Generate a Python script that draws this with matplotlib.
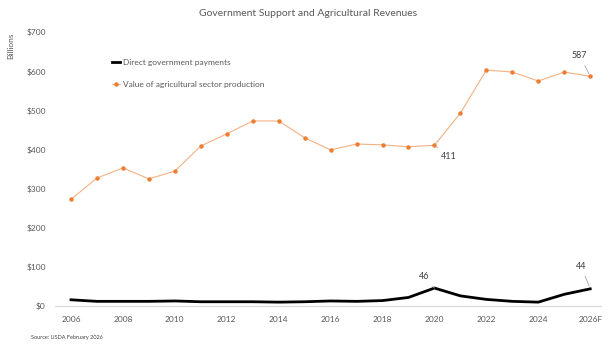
import matplotlib.pyplot as plt
import numpy as np

plt.rcParams['font.family'] = ['Lato', 'DejaVu Sans']

# data (USDA, $ billions)
years = ["2006", "2007", "2008", "2009", "2010", "2011", "2012", "2013", "2014", "2015",
         "2016", "2017", "2018", "2019", "2020", "2021", "2022", "2023", "2024", "2025", "2026F"]
gov_payments = [16, 12, 12, 12, 13, 11, 11, 11, 10, 11,
                13, 12, 14, 22, 46, 26, 17, 12, 10, 30, 44]
ag_production = [273, 327, 353, 325, 345, 409, 440, 473, 473, 430,
                 399, 414, 412, 407, 411, 493, 603, 598, 575, 598, 587]
yticks = [0, 100, 200, 300, 400, 500, 600, 700]

grey = "#595959"
orange = "#ED7D31"

fig = plt.figure(figsize=(6.16, 3.53), dpi=100)
ax = fig.add_axes([0.09, 0.133, 0.885, 0.776])

x = np.arange(len(years))
ax.plot(x, gov_payments, color="black", lw=2.0, label="Direct government payments", zorder=3)
ax.plot(x, ag_production, color="#F4B183", lw=0.8, marker="o", ms=2.2,
        mfc=orange, mec=orange, label="Value of agricultural sector production", zorder=3)

ax.set_xlim(-0.6, len(years) - 0.6)
ax.set_ylim(0, 700)
ax.set_yticks(yticks)
ax.set_yticklabels(["$%d" % v for v in yticks])
ax.set_xticks(x[::2])
ax.set_xticklabels(years[::2])
ax.tick_params(length=0, labelsize=6, colors=grey, pad=7)

for s in ["top", "right", "left"]:
    ax.spines[s].set_visible(False)
ax.spines["bottom"].set_color("#D9D9D9")
ax.spines["bottom"].set_linewidth(0.8)

# data labels with leader lines
lbl = dict(fontsize=6.5, color="#404040", arrowprops=dict(arrowstyle="-", color="#A6A6A6", lw=0.6))
ax.annotate("587", xy=(20, ag_production[20]), xytext=(19.3, 633), **lbl)
ax.annotate("411", xy=(14, ag_production[14]), xytext=(14.25, 375), **lbl)
ax.annotate("46", xy=(14, gov_payments[14]), xytext=(13.4, 68), **lbl)
ax.annotate("44", xy=(20, gov_payments[20]), xytext=(19.45, 95), **lbl)

ax.legend(loc="upper left", bbox_to_anchor=(0.09, 0.93), frameon=False, fontsize=6,
          labelcolor=grey, handlelength=1.0, handletextpad=0.3, labelspacing=1.8)

fig.text(0.5, 0.955, "Government Support and Agricultural Revenues", ha="center",
         fontsize=7.5, color=grey)
fig.text(0.012, 0.87, "Billions", rotation=90, fontsize=6, color=grey, ha="left", va="center")
fig.text(0.05, 0.04, "Source: USDA February 2026", fontsize=4, color="#404040")

plt.savefig("out.png", dpi=100)
plt.close()
